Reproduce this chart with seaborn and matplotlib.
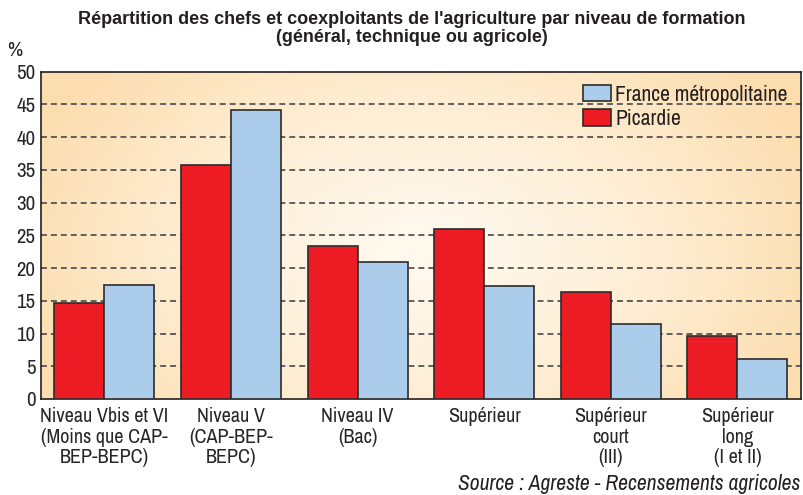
import numpy as np
import pandas as pd
import matplotlib
matplotlib.use("Agg")
import matplotlib.pyplot as plt
import seaborn as sns
from matplotlib import font_manager
from matplotlib.patches import Patch
from matplotlib.colors import LinearSegmentedColormap

# -------------------------- données --------------------------
categories = [
    "Niveau Vbis et VI\n(Moins que CAP-\nBEP-BEPC)",
    "Niveau V\n(CAP-BEP-\nBEPC)",
    "Niveau IV\n(Bac)",
    "Supérieur",
    "Supérieur\ncourt\n(III)",
    "Supérieur\nlong\n(I et II)",
]
picardie = [14.6, 35.7, 23.3, 26.0, 16.4, 9.6]
france = [17.4, 44.1, 21.0, 17.2, 11.4, 6.1]
series = ["Picardie", "France métropolitaine"]
colors = {"Picardie": "#ED1C24", "France métropolitaine": "#ABCDEB"}

df = pd.DataFrame({
    "cat": categories * 2,
    "serie": ["Picardie"] * 6 + ["France métropolitaine"] * 6,
    "val": picardie + france,
})

# police étroite si disponible
narrow = [f.name for f in font_manager.fontManager.ttflist
          if ("Narrow" in f.name or "Condensed" in f.name)]
fam = [narrow[0], "DejaVu Sans"] if narrow else ["Roboto", "DejaVu Sans"]

sns.set_style("white")
plt.rcParams['font.family'] = fam
plt.rcParams['text.color'] = '#231F20'

fig = plt.figure(figsize=(8.04, 4.95), dpi=100)
ax = fig.add_axes([0.051, 0.194, 0.945, 0.661])

# fond dégradé (orange sur les bords, clair au centre)
xx, yy = np.meshgrid(np.linspace(0, 1, 300), np.linspace(0, 1, 200))
dist = np.sqrt(((xx - 0.5) / 0.6) ** 2 + ((yy - 0.45) / 0.9) ** 2)
cmap = LinearSegmentedColormap.from_list("fond", ["#FFF8EC", "#FEEDD2", "#FCDDAE"])
ax.imshow(dist, cmap=cmap, extent=[0, 1, 0, 1], transform=ax.transAxes,
          aspect="auto", zorder=0, origin="lower", vmin=0.1, vmax=0.95)

sns.barplot(data=df, x="cat", y="val", hue="serie", hue_order=series,
            palette=colors, saturation=1, width=0.79, gap=0, edgecolor="#2b2b2b",
            linewidth=1.2, legend=False, ax=ax, zorder=3)

ax.set_ylim(0, 50)
ax.set_xlim(-0.5, 5.5)
ax.set_yticks(range(0, 51, 5))
for v in range(5, 50, 5):
    ax.axhline(v, color="#555555", linestyle=(0, (3.3, 2.2)), linewidth=1.3, zorder=1)

for s in ax.spines.values():
    s.set_color("#231F20")
    s.set_linewidth(1.2)
ax.tick_params(axis="y", labelsize=15, length=0, pad=4)
ax.tick_params(axis="x", labelsize=14.5, length=0, pad=6)
ax.set_xlabel("")
ax.set_ylabel("")
for lab in ax.get_xticklabels():
    lab.set_linespacing(1.08)

ax.text(-0.035, 1.035, "%", transform=ax.transAxes, fontsize=15, ha="center", va="bottom")

fig.text(0.512, 0.978, "Répartition des chefs et coexploitants de l'agriculture par niveau de formation\n"
         "(général, technique ou agricole)", ha="center", va="top", fontsize=13,
         fontweight="bold", linespacing=1.05, family=["Liberation Sans", "DejaVu Sans"])

fig.text(0.995, 0.003, "Source : Agreste - Recensements agricoles", ha="right", va="bottom",
         fontsize=15.5, style="italic")

handles = [Patch(facecolor=colors[s], edgecolor="#2b2b2b", linewidth=1.2) for s in series[::-1]]
ax.legend(handles, series[::-1], loc="upper right", frameon=False, fontsize=15.5,
          handlelength=1.3, handleheight=0.8, handletextpad=0.2, labelspacing=0.2,
          borderaxespad=0.2)

fig.savefig("out.png", dpi=100)
